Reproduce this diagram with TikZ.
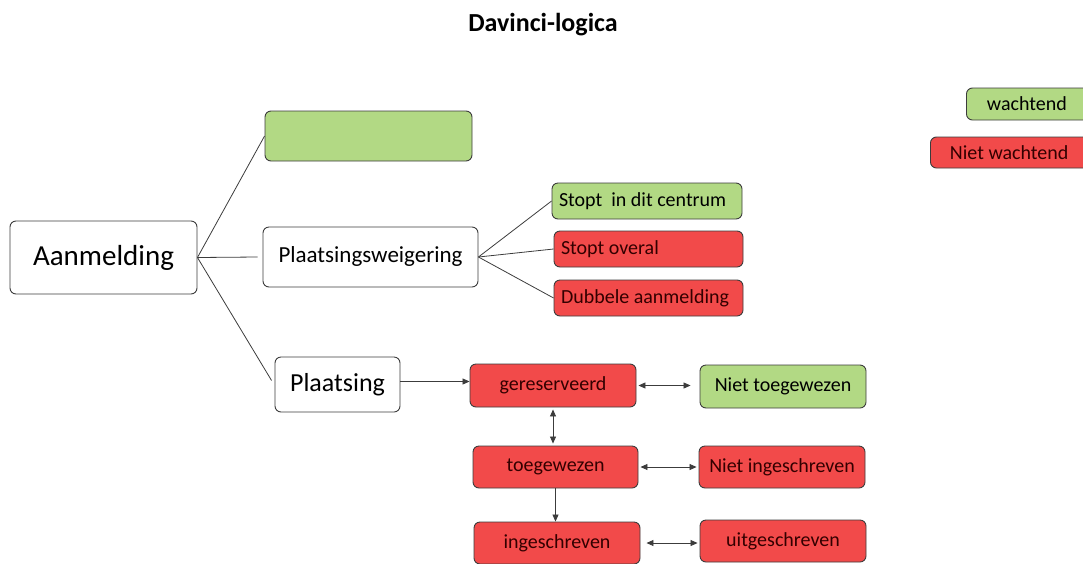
\documentclass[tikz,border=0pt]{standalone}
\usepackage{fontspec}
\setmainfont{Carlito}
\usetikzlibrary{arrows.meta}
\definecolor{boxgreen}{RGB}{178,217,132}
\definecolor{boxred}{RGB}{242,74,74}
\definecolor{edgegray}{RGB}{60,60,60}
\tikzset{
  box/.style={draw=edgegray, line width=0.9pt, rounded corners=6pt, inner sep=0pt, align=center},
  wbox/.style={box, fill=white},
  gbox/.style={box, fill=boxgreen},
  rbox/.style={box, fill=boxred, text=black!80!red},
  conn/.style={draw=edgegray, line width=0.8pt},
  arr/.style={conn, -{Triangle[length=7pt,width=6pt]}},
  darr/.style={conn, {Triangle[length=7pt,width=6pt]}-{Triangle[length=7pt,width=6pt]}, shorten >=2pt, shorten <=2pt},
  big/.style={font=\fontsize{20}{24}\selectfont},
}
\begin{document}
\begin{tikzpicture}[x=1pt,y=-1pt]
\useasboundingbox (0,0) rectangle (1083,563);
\node (title) at (543,25) {\fontsize{26}{30}\selectfont\bfseries Davinci-logica};

\node[wbox, minimum width=187pt, minimum height=73pt] (aan) at (103.5,257.5) {\fontsize{29}{32}\selectfont Aanmelding};
\node[gbox, minimum width=207pt, minimum height=50pt] (empty) at (368.5,136) {};
\node[wbox, minimum width=215pt, minimum height=60pt] (weig) at (370.5,257) {\raisebox{5pt}{\fontsize{23}{26}\selectfont Plaatsingsweigering}};
\node[wbox, minimum width=125pt, minimum height=55pt] (plaats) at (337.5,384.5) {\raisebox{2pt}{\fontsize{26}{30}\selectfont Plaatsing}};

\node[gbox, big, minimum width=190pt, minimum height=36pt] (s1) at (647,201) {\makebox[176pt][l]{Stopt\ \ in dit centrum}};
\node[rbox, big, minimum width=189pt, minimum height=36pt] (s2) at (648.5,249) {\makebox[175pt][l]{\raisebox{2pt}{Stopt overal}}};
\node[rbox, big, minimum width=189pt, minimum height=36pt] (s3) at (648.5,298) {\makebox[175pt][l]{Dubbele aanmelding}};

\node[rbox, big, minimum width=166pt, minimum height=43pt] (ger) at (553,385.5) {\raisebox{2pt}{gereserveerd}};
\node[gbox, big, minimum width=166pt, minimum height=43pt] (nt) at (783,386.5) {Niet toegewezen};
\node[rbox, big, minimum width=165pt, minimum height=42pt] (toe) at (555.5,467) {toegewezen};
\node[rbox, big, minimum width=166pt, minimum height=42pt] (ni) at (782,467) {Niet ingeschreven};
\node[rbox, big, minimum width=166pt, minimum height=42pt] (ing) at (557,543) {ingeschreven};
\node[rbox, big, minimum width=166pt, minimum height=42pt] (uit) at (783,541) {\raisebox{2pt}{uitgeschreven}};

\node[gbox, big, minimum width=130pt, minimum height=32pt, anchor=west] (w) at (966,104) {\makebox[117pt][l]{\hspace{14pt}wachtend}};
\node[rbox, big, minimum width=165pt, minimum height=31pt, anchor=west] (nw) at (930,152.5) {\makebox[152pt][l]{\hspace{13pt}Niet wachtend}};

\draw[conn] (aan.east) -- (empty.west);
\draw[conn] (aan.east) -- ([xshift=-5pt]weig.west);
\draw[conn] (aan.east) -- ([xshift=-3pt,yshift=4pt]plaats.west);

\draw[conn] (weig.east) -- (s1.west);
\draw[conn] (weig.east) -- (s2.west);
\draw[conn] (weig.east) -- (s3.west);

\coordinate (pe) at ([yshift=3pt]plaats.east);
\coordinate (ge) at (ger.east);
\coordinate (te) at (toe.east);
\coordinate (ie) at ([xshift=4pt]ing.east);
\draw[arr] (pe) -- (pe -| ger.west);
\draw[darr, shorten >=9pt] (ge) -- (ge -| nt.west);
\draw[darr] (ger.south) -- (toe.north -| ger.south);
\draw[darr] (te) -- (te -| ni.west);
\draw[arr] (toe.south) -- (ing.north -| toe.south);
\draw[darr] (ie) -- (ie -| uit.west);
\end{tikzpicture}
\end{document}
